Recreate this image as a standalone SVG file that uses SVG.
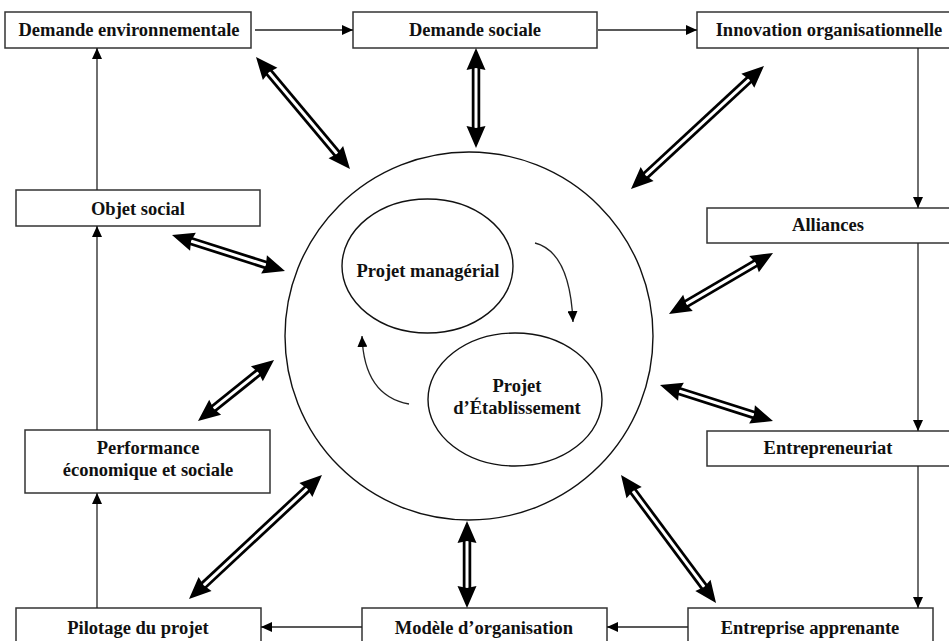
<svg xmlns="http://www.w3.org/2000/svg" width="949" height="641" viewBox="0 0 949 641">
<style>
.box{fill:#fff;stroke:#333;stroke-width:1.5}
.t{font-family:"Liberation Serif","Times New Roman",serif;font-weight:bold;font-size:18.5px;fill:#111;text-anchor:middle}
.ln{fill:none;stroke:#222;stroke-width:1.3}
.sh{stroke:#000;stroke-width:8.5}
.gp{stroke:#fff;stroke-width:3}
.hd{fill:#000}
.ring{fill:#fff;stroke:#111;stroke-width:1.4}
</style>
<defs>
<marker id="ah" markerUnits="userSpaceOnUse" markerWidth="12" markerHeight="10" refX="11" refY="5" orient="auto">
<path d="M0,0 L11,5 L0,10 Z" fill="#000"/>
</marker>
</defs>
<rect width="949" height="641" fill="#fff"/>

<g id="centre">
<circle class="ring" cx="469" cy="336" r="184"/>
</g>
<g id="projet-managerial">
<ellipse class="ring" cx="427.5" cy="266" rx="85.5" ry="67"/>
<text class="t" x="428" y="277">Projet managérial</text>
</g>
<g id="projet-etablissement">
<ellipse class="ring" cx="515" cy="399.5" rx="87" ry="66.5"/>
<text class="t" x="517" y="392">Projet</text>
<text class="t" x="517" y="414">d’Établissement</text>
</g>

<g id="demande-environnementale">
<rect class="box" x="5" y="12" width="246" height="36"/>
<text class="t" x="129" y="36">Demande environnementale</text>
</g>
<g id="demande-sociale">
<rect class="box" x="353" y="12" width="244" height="36"/>
<text class="t" x="475" y="36">Demande sociale</text>
</g>
<g id="innovation-organisationnelle">
<rect class="box" x="697" y="12" width="262" height="36"/>
<text class="t" x="829" y="36">Innovation organisationnelle</text>
</g>
<g id="alliances">
<rect class="box" x="707" y="208" width="252" height="35"/>
<text class="t" x="828" y="231">Alliances</text>
</g>
<g id="entrepreneuriat">
<rect class="box" x="707" y="431" width="252" height="35"/>
<text class="t" x="828" y="454">Entrepreneuriat</text>
</g>
<g id="entreprise-apprenante">
<rect class="box" x="688" y="608" width="245" height="40"/>
<text class="t" x="810" y="634">Entreprise apprenante</text>
</g>
<g id="modele-organisation">
<rect class="box" x="362" y="608" width="245" height="40"/>
<text class="t" x="484" y="634">Modèle d’organisation</text>
</g>
<g id="pilotage">
<rect class="box" x="16" y="608" width="245" height="40"/>
<text class="t" x="138" y="634">Pilotage du projet</text>
</g>
<g id="performance">
<rect class="box" x="25" y="430" width="245" height="63"/>
<text class="t" x="148" y="454">Performance</text>
<text class="t" x="148" y="476">économique et sociale</text>
</g>
<g id="objet-social">
<rect class="box" x="16" y="190" width="244" height="36"/>
<text class="t" x="138" y="215">Objet social</text>
</g>

<g id="connectors">
<line class="ln" x1="255" y1="30" x2="353" y2="30" marker-end="url(#ah)"/>
<line class="ln" x1="598" y1="30" x2="697" y2="30" marker-end="url(#ah)"/>
<line class="ln" x1="918" y1="48" x2="918" y2="208" marker-end="url(#ah)"/>
<line class="ln" x1="918" y1="243" x2="918" y2="431" marker-end="url(#ah)"/>
<line class="ln" x1="918" y1="466" x2="918" y2="608" marker-end="url(#ah)"/>
<line class="ln" x1="688" y1="627" x2="607" y2="627" marker-end="url(#ah)"/>
<line class="ln" x1="362" y1="627" x2="261" y2="627" marker-end="url(#ah)"/>
<line class="ln" x1="97" y1="608" x2="97" y2="493" marker-end="url(#ah)"/>
<line class="ln" x1="97" y1="430" x2="97" y2="226" marker-end="url(#ah)"/>
<line class="ln" x1="97" y1="190" x2="97" y2="48" marker-end="url(#ah)"/>
<path class="ln" d="M535,243 Q570,252 573,322" marker-end="url(#ah)"/>
<path class="ln" d="M409,404 Q364,396 362,336" marker-end="url(#ah)"/>

<g transform="translate(256,57) rotate(50)">
<line class="sh" x1="18" y1="0" x2="128.2" y2="0"/><line class="gp" x1="19" y1="0" x2="127.2" y2="0"/>
<path class="hd" d="M0,0 L22,-9.5 L20,0 L22,9.5 Z M146.2,0 L124.2,-9.5 L126.2,0 L124.2,9.5 Z"/>
</g>
<g transform="translate(476,48) rotate(90)">
<line class="sh" x1="18" y1="0" x2="82" y2="0"/><line class="gp" x1="19" y1="0" x2="81" y2="0"/>
<path class="hd" d="M0,0 L22,-9.5 L20,0 L22,9.5 Z M100,0 L78,-9.5 L80,0 L78,9.5 Z"/>
</g>
<g transform="translate(631,189) rotate(-42.8)">
<line class="sh" x1="18" y1="0" x2="163.2" y2="0"/><line class="gp" x1="19" y1="0" x2="162.2" y2="0"/>
<path class="hd" d="M0,0 L22,-9.5 L20,0 L22,9.5 Z M181.2,0 L159.2,-9.5 L161.2,0 L159.2,9.5 Z"/>
</g>
<g transform="translate(172,235) rotate(17.7)">
<line class="sh" x1="18" y1="0" x2="100.6" y2="0"/><line class="gp" x1="19" y1="0" x2="99.6" y2="0"/>
<path class="hd" d="M0,0 L22,-9.5 L20,0 L22,9.5 Z M118.6,0 L96.6,-9.5 L98.6,0 L96.6,9.5 Z"/>
</g>
<g transform="translate(669,314) rotate(-30.4)">
<line class="sh" x1="18" y1="0" x2="102.6" y2="0"/><line class="gp" x1="19" y1="0" x2="101.6" y2="0"/>
<path class="hd" d="M0,0 L22,-9.5 L20,0 L22,9.5 Z M120.6,0 L98.6,-9.5 L100.6,0 L98.6,9.5 Z"/>
</g>
<g transform="translate(660,385) rotate(17.7)">
<line class="sh" x1="18" y1="0" x2="100.6" y2="0"/><line class="gp" x1="19" y1="0" x2="99.6" y2="0"/>
<path class="hd" d="M0,0 L22,-9.5 L20,0 L22,9.5 Z M118.6,0 L96.6,-9.5 L98.6,0 L96.6,9.5 Z"/>
</g>
<g transform="translate(198,421) rotate(-38.75)">
<line class="sh" x1="18" y1="0" x2="79.5" y2="0"/><line class="gp" x1="19" y1="0" x2="78.5" y2="0"/>
<path class="hd" d="M0,0 L22,-9.5 L20,0 L22,9.5 Z M97.5,0 L75.5,-9.5 L77.5,0 L75.5,9.5 Z"/>
</g>
<g transform="translate(189,599) rotate(-43)">
<line class="sh" x1="18" y1="0" x2="163.8" y2="0"/><line class="gp" x1="19" y1="0" x2="162.8" y2="0"/>
<path class="hd" d="M0,0 L22,-9.5 L20,0 L22,9.5 Z M181.8,0 L159.8,-9.5 L161.8,0 L159.8,9.5 Z"/>
</g>
<g transform="translate(467,521) rotate(90)">
<line class="sh" x1="18" y1="0" x2="69" y2="0"/><line class="gp" x1="19" y1="0" x2="68" y2="0"/>
<path class="hd" d="M0,0 L22,-9.5 L20,0 L22,9.5 Z M87,0 L65,-9.5 L67,0 L65,9.5 Z"/>
</g>
<g transform="translate(621,475) rotate(53.4)">
<line class="sh" x1="18" y1="0" x2="141.4" y2="0"/><line class="gp" x1="19" y1="0" x2="140.4" y2="0"/>
<path class="hd" d="M0,0 L22,-9.5 L20,0 L22,9.5 Z M159.4,0 L137.4,-9.5 L139.4,0 L137.4,9.5 Z"/>
</g>
</g>
</svg>
